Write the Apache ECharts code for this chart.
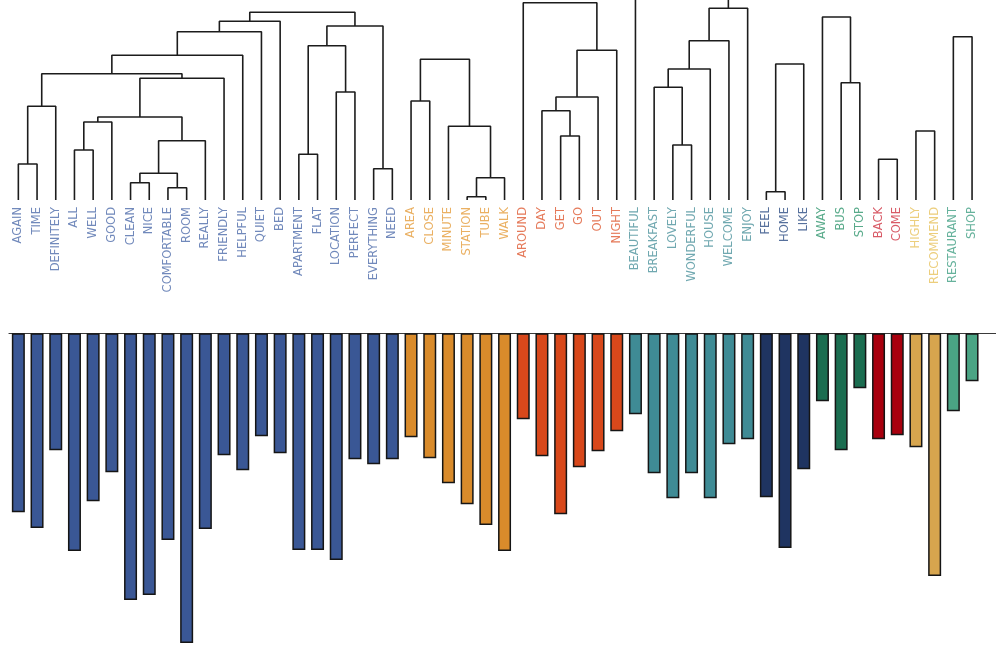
<!DOCTYPE html>
<html>
<head>
<meta charset="utf-8">
<script src="https://cdn.jsdelivr.net/npm/echarts@6/dist/echarts.min.js"></script>
<style>
  html, body { margin: 0; padding: 0; background: #ffffff; }
  #chart { width: 996px; height: 653px; }
</style>
</head>
<body>
<div id="chart"></div>
<script>
// Leaf order of the word dendrogram
const words = [
  'AGAIN', 'TIME', 'DEFINITELY', 'ALL', 'WELL', 'GOOD', 'CLEAN', 'NICE', 'COMFORTABLE', 'ROOM',
  'REALLY', 'FRIENDLY', 'HELPFUL', 'QUIET', 'BED', 'APARTMENT', 'FLAT', 'LOCATION', 'PERFECT',
  'EVERYTHING', 'NEED', 'AREA', 'CLOSE', 'MINUTE', 'STATION', 'TUBE', 'WALK', 'AROUND', 'DAY',
  'GET', 'GO', 'OUT', 'NIGHT', 'BEAUTIFUL', 'BREAKFAST', 'LOVELY', 'WONDERFUL', 'HOUSE', 'WELCOME',
  'ENJOY', 'FEEL', 'HOME', 'LIKE', 'AWAY', 'BUS', 'STOP', 'BACK', 'COME', 'HIGHLY', 'RECOMMEND',
  'RESTAURANT', 'SHOP'
];

// Word frequencies (bar lengths, hanging below the baseline)
const counts = [
  179, 195, 117, 218, 168, 139, 267, 262, 207, 310,
  196, 122, 137, 103, 120, 217, 217, 227, 126,
  131, 126, 104, 125, 150, 171, 192, 218, 86, 123,
  181, 134, 118, 98, 81, 140, 165, 140, 165, 111,
  106, 164, 215, 136, 68, 117, 55, 106, 102, 114, 243,
  78, 48
];

// Cluster sizes, in leaf order
const clusterSizes = [21, 6, 6, 7, 3, 3, 2, 2, 2];
const barColors   = ['#3a5795', '#d98b2b', '#d8481b', '#3f8b95', '#1f3461', '#1b6d50', '#a8000e', '#d7a54e', '#4aa484'];
const labelColors = ['#7189bb', '#eab062', '#e57a5a', '#70a8b0', '#56709c', '#58aa8a', '#d85a66', '#ecce7c', '#66b29c'];

// Merge trees per cluster: [left, right, linkage height]
const treeStay = [
  [[[[
    [['AGAIN', 'TIME', 36], 'DEFINITELY', 93.7],
    [[[['ALL', 'WELL', 50], 'GOOD', 78],
      [[['CLEAN', 'NICE', 17.3], ['COMFORTABLE', 'ROOM', 12.3], 26.7], 'REALLY', 59.3], 83],
     'FRIENDLY', 121.7],
    126.3], 'HELPFUL', 144.7], 'QUIET', 168.3], 'BED', 178.7],
  [[['APARTMENT', 'FLAT', 45.7], ['LOCATION', 'PERFECT', 108], 154.3], ['EVERYTHING', 'NEED', 31.3], 174],
  187.7
];
const treeTransport = [['AREA', 'CLOSE', 99], ['MINUTE', [['STATION', 'TUBE', 3.3], 'WALK', 22.3], 73.7], 140.7];
const treeOuting = ['AROUND', [[['DAY', ['GET', 'GO', 64], 89.3], 'OUT', 103], 'NIGHT', 149.7], 197.3];
const treeWelcome = ['BEAUTIFUL', [[[['BREAKFAST', ['LOVELY', 'WONDERFUL', 55], 112.7], 'HOUSE', 131], 'WELCOME', 159.3], 'ENJOY', 191.7], 215];
const treeHome = [['FEEL', 'HOME', 8.3], 'LIKE', 136];
const treeBus = ['AWAY', ['BUS', 'STOP', 117.3], 183];
const treeReturn = ['BACK', 'COME', 40.7];
const treeRecommend = ['HIGHLY', 'RECOMMEND', 69];
const treeShop = ['RESTAURANT', 'SHOP', 163.3];

const trees = [treeStay, treeTransport, treeOuting, treeWelcome, treeHome, treeBus, treeReturn, treeRecommend, treeShop];

// Cluster index of every leaf
const clusterOf = [];
clusterSizes.forEach((n, c) => { for (let k = 0; k < n; k++) clusterOf.push(c); });

// Walk a tree, collecting the U-shaped links
const links = [];
function walk(node) {
  if (typeof node === 'string') return { x: words.indexOf(node), h: 0 };
  const l = walk(node[0]);
  const r = walk(node[1]);
  const h = node[2];
  links.push([[l.x, l.h], [l.x, h], [r.x, h], [r.x, r.h]]);
  return { x: (l.x + r.x) / 2, h: h };
}
trees.forEach(walk);

// Layout constants
const W = 996;
const left = 9;
const slot = 18.7;
const plotW = slot * words.length;
const dendroH = 200;
const barTop = 333.3;

const chart = echarts.init(document.getElementById('chart'), null, { renderer: 'canvas' });

const linkSeries = links.map(pts => ({
  type: 'line',
  xAxisIndex: 0,
  yAxisIndex: 0,
  data: pts,
  symbol: 'none',
  silent: true,
  clip: true,
  lineStyle: { color: '#1c1c1c', width: 1.6 },
  z: 3
}));

chart.setOption({
  animation: false,
  backgroundColor: '#ffffff',
  grid: [
    { left: left, top: 0, width: plotW, height: dendroH },
    { left: left, top: barTop, right: 0, bottom: 0 }
  ],
  xAxis: [
    { type: 'value', gridIndex: 0, min: -0.5, max: words.length - 0.5, show: false },
    {
      type: 'category', gridIndex: 0, data: words, position: 'bottom',
      axisLine: { show: false }, axisTick: { show: false }, splitLine: { show: false },
      axisLabel: {
        interval: 0, rotate: 90, margin: 7,
        fontFamily: 'DejaVu Sans', fontSize: 11.5,
        color: (value, index) => labelColors[clusterOf[index]]
      }
    },
    {
      type: 'value', gridIndex: 1, position: 'top',
      min: -0.5, max: -0.5 + (W - left) / slot,
      axisLine: { show: true, onZero: false, lineStyle: { color: '#3a3a3a', width: 1.2 } },
      axisTick: { show: false }, axisLabel: { show: false }, splitLine: { show: false }
    }
  ],
  yAxis: [
    { type: 'value', gridIndex: 0, min: 0, max: dendroH, show: false },
    { type: 'value', gridIndex: 1, min: 0, max: 320, inverse: true, show: false }
  ],
  series: linkSeries.concat([{
    type: 'bar',
    xAxisIndex: 2,
    yAxisIndex: 1,
    barWidth: 13,
    silent: true,
    data: counts.map((v, i) => ({
      value: [i, v],
      itemStyle: { color: barColors[clusterOf[i]] }
    })),
    itemStyle: { borderColor: '#151515', borderWidth: 1.5 }
  }])
});
</script>
</body>
</html>
